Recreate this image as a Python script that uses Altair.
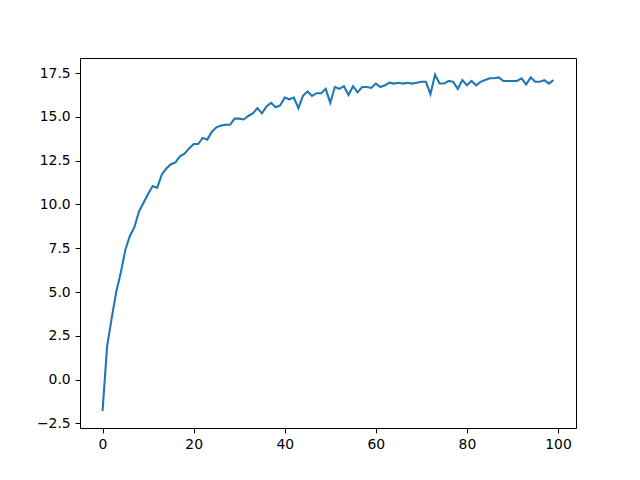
import altair as alt
import pandas as pd

steps = list(range(100))
values = [
    -1.8, 1.9, 3.5, 5.0, 6.1, 7.4, 8.2, 8.7, 9.6, 10.1,
    10.6, 11.05, 10.95, 11.7, 12.05, 12.3, 12.4, 12.75, 12.9, 13.2,
    13.45, 13.45, 13.8, 13.7, 14.15, 14.4, 14.5, 14.55, 14.55, 14.9,
    14.9, 14.85, 15.05, 15.2, 15.5, 15.2, 15.6, 15.8, 15.55, 15.65,
    16.1, 16.0, 16.1, 15.5, 16.2, 16.45, 16.2, 16.35, 16.35, 16.6,
    15.8, 16.7, 16.6, 16.75, 16.25, 16.75, 16.4, 16.7, 16.7, 16.65,
    16.9, 16.7, 16.8, 16.95, 16.9, 16.95, 16.9, 16.95, 16.9, 16.95,
    17.0, 17.0, 16.3, 17.4, 16.9, 16.9, 17.05, 17.0, 16.6, 17.1,
    16.8, 17.05, 16.8, 17.0, 17.1, 17.2, 17.2, 17.25, 17.05, 17.05,
    17.05, 17.05, 17.2, 16.85, 17.25, 17.0, 17.0, 17.1, 16.9, 17.1,
]
x_ticks = [0, 20, 40, 60, 80, 100]
y_ticks = [-2.5, 0.0, 2.5, 5.0, 7.5, 10.0, 12.5, 15.0, 17.5]

df = pd.DataFrame({"step": steps, "value": values})

vmin, vmax = min(values), max(values)
span = vmax - vmin
ydom = [vmin - 0.05 * span, vmax + 0.05 * span]
xdom = [-0.05 * 99, 99 + 0.05 * 99]

axis_common = dict(
    grid=False, domain=False, tickColor="black", tickSize=4.9, tickWidth=1,
    labelColor="black", labelFont="DejaVu Sans", labelFontSize=13.9,
    labelPadding=4.9, title=None,
)

chart = alt.Chart(df).mark_line(color="#1f77b4", strokeWidth=2.08, clip=True).encode(
    x=alt.X("step:Q", scale=alt.Scale(domain=xdom, nice=False, zero=False),
            axis=alt.Axis(values=x_ticks, format="d", labelFlush=False, **axis_common)),
    y=alt.Y("value:Q", scale=alt.Scale(domain=ydom, nice=False, zero=False),
            axis=alt.Axis(values=y_ticks, format=".1f", labelFlush=False, **axis_common)),
).properties(
    width=496, height=370,
    autosize=alt.AutoSizeParams(type="none"),
    padding={"left": 72, "top": 50, "right": 56, "bottom": 37},
).configure(
    background="white",
    view=alt.ViewConfig(stroke="black", strokeWidth=1, strokeOpacity=1),
)

chart.save("out.html", embed_options={"renderer": "svg", "actions": False})
